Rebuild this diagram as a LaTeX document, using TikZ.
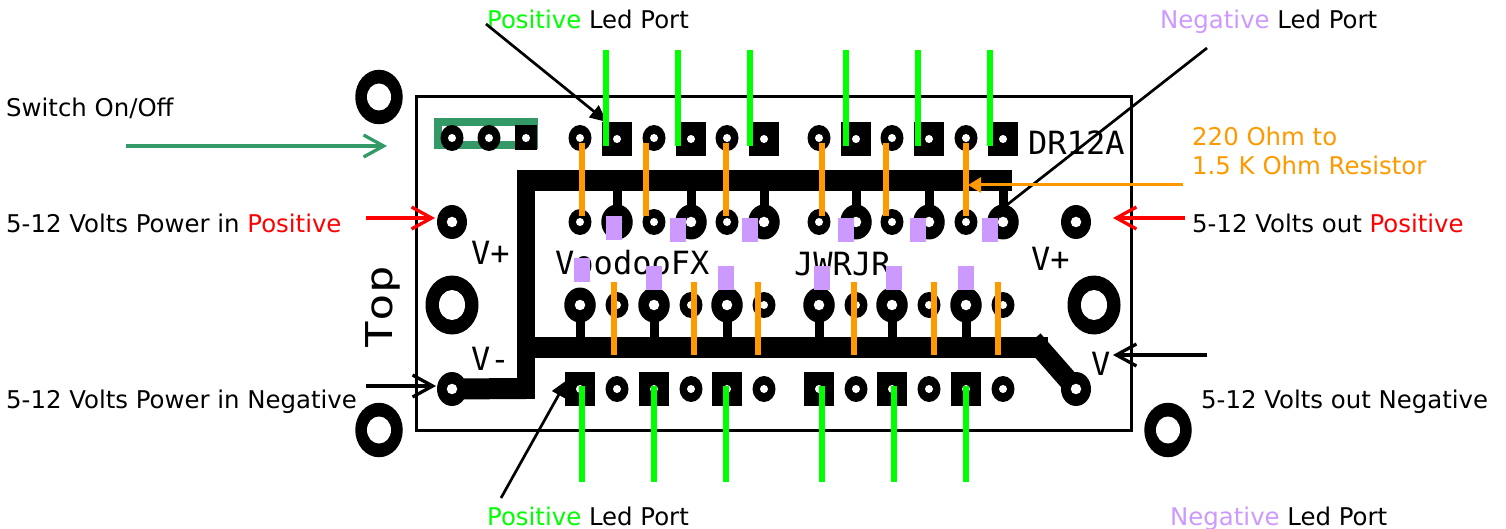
\documentclass[tikz,border=0pt]{standalone}
\usepackage{fontspec}
\setmainfont{DejaVu Sans}
\newfontfamily\silk{DejaVu Sans Mono}
\usetikzlibrary{arrows.meta,shapes.geometric}
\definecolor{ledgreen}{HTML}{00FF00}
\definecolor{ledpurple}{HTML}{CC99FF}
\definecolor{resorange}{HTML}{FF9900}
\definecolor{swgreen}{HTML}{339966}
\tikzset{
  padbase/.style={shape=ellipse,fill=black,inner sep=0pt,draw=none},
  smallpad/.style={padbase,minimum width=23pt,minimum height=26pt},
  bigpad/.style={padbase,minimum width=31.5pt,minimum height=35pt},
  portpad/.style={padbase,minimum width=30pt,minimum height=34pt},
  squarepad/.style={shape=rectangle,fill=black,inner sep=0pt,minimum width=30.5pt,minimum height=34pt},
  drill/.style={shape=circle,fill=white,inner sep=0pt,minimum size=8pt},
  wdrill/.style={shape=circle,fill=white,inner sep=0pt,minimum size=10.5pt},
  mounthole/.style={padbase,minimum width=47.5pt,minimum height=54.5pt},
  mountdrill/.style={shape=ellipse,fill=white,inner sep=0pt,minimum width=24pt,minimum height=27pt},
  bighole/.style={padbase,minimum width=53pt,minimum height=59pt},
  bigdrill/.style={shape=ellipse,fill=white,inner sep=0pt,minimum width=26pt,minimum height=30pt},
  bus/.style={line width=21pt,black},
  stem/.style={line width=9pt,black},
  ledwire/.style={line width=6pt,ledgreen},
  reswire/.style={line width=6pt,resorange},
  purplepad/.style={shape=rectangle,fill=ledpurple,inner sep=0pt,minimum width=16pt,minimum height=24pt},
  openarrow/.style={line width=3.3pt,-{Straight Barb[length=20pt,width=22pt,line width=3.3pt]}},
  solidarrow/.style={line width=2.7pt,black,-{Triangle[length=17pt,width=15pt]}},
  label/.style={anchor=base west,inner sep=0pt,font=\fontsize{24.4}{28}\selectfont},
  silkscreen/.style={inner sep=0pt,anchor=base west,font=\silk\fontsize{32}{36}\selectfont}
}
\begin{document}
\begin{tikzpicture}[x=1pt,y=-1pt]
\useasboundingbox (0,0) rectangle (1506,529);
% board
\node[shape=rectangle,draw=black,line width=3pt,inner sep=0pt,minimum width=715pt,minimum height=333pt] (board) at (773.5,263.5) {};
% mounting holes
\foreach \n/\x/\y in {ma/379/97,mb/379/430,mc/1168/430}{
  \node[mounthole] (\n) at (\x,\y) {};
  \node[mountdrill] (\n d) at (\x,\y) {};
}
\foreach \n/\x/\y in {ha/452/305,hb/1094/305}{
  \node[bighole] (\n) at (\x,\y) {};
  \node[bigdrill] (\n d) at (\x,\y) {};
}
% named points of the copper traces
\coordinate (busTL) at (526,180.5);
\coordinate (busTR) at (1012,180.5);
\coordinate (busBL) at (526,347);
\coordinate (busEnd) at (1048,347);
\coordinate (diagStart) at (1033,340);
\coordinate (busCorner) at (526,388.5);
% pads
\node[portpad] (pin) at (452,222) {};
\node[portpad] (pout) at (1076,222) {};
\node[portpad] (nin) at (452,389) {};
\node[portpad] (nout) at (1076,389) {};
\foreach \x [count=\i] in {580,654,727,819,892,966}{
  \node[smallpad] (ts\i) at (\x,138) {};
  \node[smallpad] (us\i) at (\x,222) {};
  \node[bigpad] (lb\i) at (\x,305) {};
  \node[squarepad] (bq\i) at (\x,389) {};
}
\foreach \x [count=\i] in {617,691,764,856,929,1003}{
  \node[squarepad] (tq\i) at (\x,139) {};
  \node[bigpad] (ub\i) at (\x,222) {};
  \node[smallpad] (ls\i) at (\x,305) {};
  \node[smallpad] (bs\i) at (\x,389) {};
}
% switch
\node[shape=rectangle,draw=swgreen,line width=8pt,inner sep=0pt,minimum width=96pt,minimum height=23pt] (sw) at (486,133.5) {};
\node[smallpad] (swa) at (452,138) {};
\node[smallpad] (swb) at (489,138) {};
\node[shape=rectangle,fill=black,inner sep=0pt,minimum width=22pt,minimum height=25pt] (swc) at (526,138) {};
% traces
\draw[bus] ([xshift=-9pt]busTL) -- (busTR);
\draw[line width=18pt,black] (busTL) ++(0,-10.5) -- (busCorner |- 0,399);
\draw[bus] (busBL) -- (busEnd);
\draw[line width=20pt,black] (diagStart) -- (nout.center);
\draw[bus] (nin.center) -- (busCorner);
\foreach \i in {1,...,6}{
  \draw[stem] (ub\i.center) -- (ub\i |- busTL);
  \draw[stem] (lb\i.center) -- (lb\i |- busBL);
}
% drills
\foreach \n in {pin,pout,nin,nout}{ \node[wdrill] at (\n) {}; }
\foreach \n in {swa,swb,swc}{ \node[drill] at (\n) {}; }
\foreach \i in {1,...,6}{
  \foreach \n in {ts,us,bq,tq,ls,bs}{ \node[drill] at (\n\i) {}; }
  \foreach \n in {lb,ub}{ \node[wdrill] at (\n\i) {}; }
}
% silkscreen
\node[silkscreen] (t1) at (555,274) {VoodooFX};
\node[silkscreen] (t2) at (794,276) {JWRJR};
\node[silkscreen] (t3) at (1028,155) {DR12A};
\node[silkscreen] (t4) at (471,265) {V+};
\node[silkscreen] (t5) at (1031,270) {V+};
\node[silkscreen] (t6) at (471,370) {V-};
\node[silkscreen] (t7) at (1091,375) {V};
\node[inner sep=0pt,anchor=base west,rotate=90,font=\silk\fontsize{37}{40}\selectfont] (t8) at (392,349) {\scalebox{1.24}[1]{Top}};
% purple markers
\foreach \n/\x/\y in {pa/614/228,pb/678/230,pc/750/230,pd/846/230,pe/918/230,pf/990/230,
                      pg/582/270,ph/654/278,pi/726/278,pj/822/278,pk/894/278,pl/966/278}{
  \node[purplepad] (\n) at (\x,\y) {};
}
% labels
\node[label] (lswitch) at (6,117) {Switch On/Off};
\node[label] (lpin) at (6,233) {5-12 Volts Power in \textcolor{red}{Positive}};
\node[label] (lnin) at (6,408) {5-12 Volts Power in Negative};
\node[label] (lpout) at (1192,233) {5-12 Volts out \textcolor{red}{Positive}};
\node[label] (lnout) at (1201,408) {5-12 Volts out Negative};
\node[label] (lposa) at (487,29) {\textcolor{ledgreen}{Positive} Led Port};
\node[label] (lnega) at (1160,29) {\textcolor{ledpurple}{Negative} Led Port};
\node[label] (lposb) at (487,525) {\textcolor{ledgreen}{Positive} Led Port};
\node[label] (lnegb) at (1170,525) {\textcolor{ledpurple}{Negative} Led Port};
\node[label,text=resorange] (lresa) at (1192,146) {220 Ohm to};
\node[label,text=resorange] (lresb) at (1192,175) {1.5 K Ohm Resistor};
% arrow end points
\coordinate (asw) at (126,146);   \coordinate (aswt) at (387,146);
\coordinate (apin) at (366,218);  \coordinate (apint) at (435,218);
\coordinate (anin) at (366,386);  \coordinate (anint) at (436,386);
\coordinate (apout) at (1185,218);\coordinate (apoutt) at (1113,218);
\coordinate (anout) at (1207,355);\coordinate (anoutt) at (1113,355);
\coordinate (ares) at (1183,185); \coordinate (arest) at (968,185);
\coordinate (apos1) at (486,24);  \coordinate (apos1t) at (607,122);
\coordinate (aneg1) at (1207,48); \coordinate (aneg1t) at (994,215);
\coordinate (apos2) at (501,498); \coordinate (apos2t) at (567,380);
% arrows
\draw[openarrow,swgreen] (asw) -- (aswt);
\draw[openarrow,red] (apin) -- (apint);
\draw[openarrow,black] (anin) -- (anint);
\draw[openarrow,red] (apout) -- (apoutt);
\draw[openarrow,black] (anout) -- (anoutt);
\draw[solidarrow] (apos1) -- (apos1t);
\draw[solidarrow] (aneg1) -- (aneg1t);
\draw[solidarrow] (apos2) -- (apos2t);
% resistors
\foreach \x [count=\i] in {582,646,726,822,886,966}{
  \coordinate (rt\i) at (\x,143);
  \coordinate (rb\i) at (\x,216);
  \draw[reswire] (rt\i) -- (rb\i);
}
\foreach \x [count=\i] in {614,694,758,854,934,998}{
  \coordinate (qt\i) at (\x,282);
  \coordinate (qb\i) at (\x,355);
  \draw[reswire] (qt\i) -- (qb\i);
}
\draw[line width=3pt,resorange,-{Triangle[length=13pt,width=15pt]}] (ares) -- (arest);
% LED wires
\foreach \x [count=\i] in {606,678,750,846,918,990}{
  \coordinate (gt\i) at (\x,50);
  \coordinate (gb\i) at (\x,146);
  \draw[ledwire] (gt\i) -- (gb\i);
}
\foreach \x [count=\i] in {582,654,726,822,894,966}{
  \coordinate (ht\i) at (\x,386);
  \coordinate (hb\i) at (\x,482);
  \draw[ledwire] (ht\i) -- (hb\i);
}
\end{tikzpicture}
\end{document}
